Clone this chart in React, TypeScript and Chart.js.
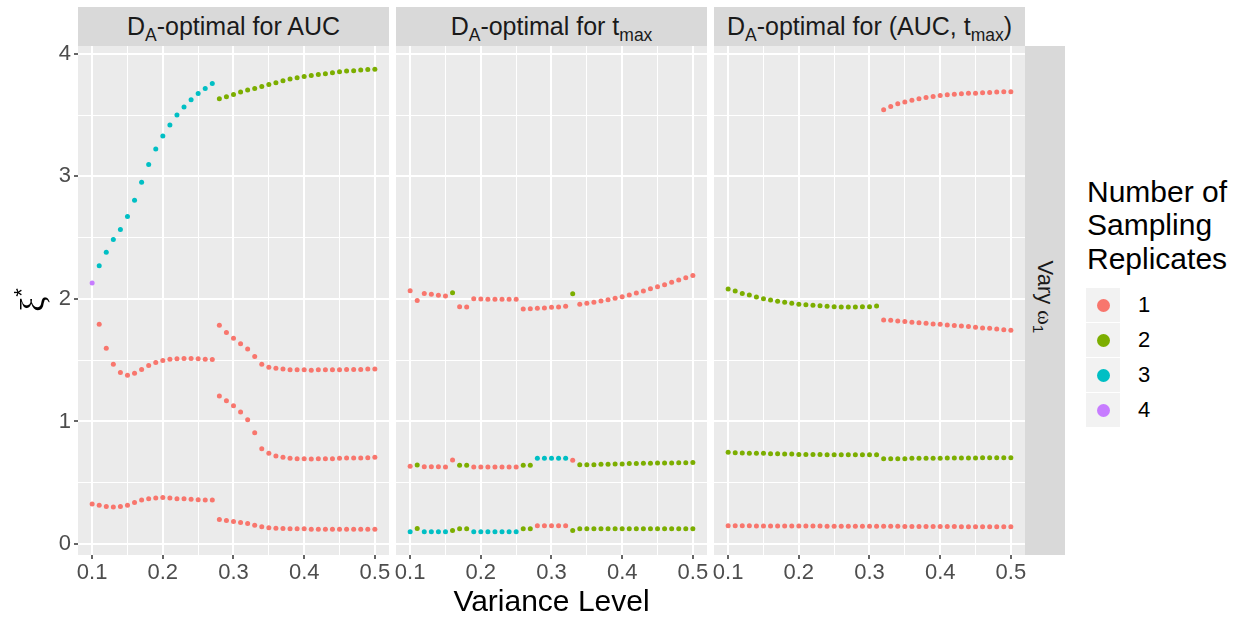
import React, { useEffect, useRef } from 'react';
import { Chart, registerables } from 'chart.js';

Chart.register(...registerables);

// ---------- data ----------
const varianceLevels = [
  0.10, 0.11, 0.12, 0.13, 0.14, 0.15, 0.16, 0.17, 0.18, 0.19, 0.20,
  0.21, 0.22, 0.23, 0.24, 0.25, 0.26, 0.27, 0.28, 0.29, 0.30,
  0.31, 0.32, 0.33, 0.34, 0.35, 0.36, 0.37, 0.38, 0.39, 0.40,
  0.41, 0.42, 0.43, 0.44, 0.45, 0.46, 0.47, 0.48, 0.49, 0.50,
];

const xTickValues = [0.1, 0.2, 0.3, 0.4, 0.5];
const xTickLabels = ['0.1', '0.2', '0.3', '0.4', '0.5'];
const xMinorTicks = [0.15, 0.25, 0.35, 0.45];
const yTickValues = [0, 1, 2, 3, 4];
const yTickLabels = ['0', '1', '2', '3', '4'];
const yMinorTicks = [0.5, 1.5, 2.5, 3.5];

const replicateLabels = ['1', '2', '3', '4'];
const replicateColors = ['#F8766D', '#7CAE00', '#00BFC4', '#C77CFF'];

// Panel 1: D_A-optimal for AUC (support points, replicate counts)
const aucRow1 = [2.13, 2.27, 2.38, 2.485, 2.566, 2.672, 2.805, 2.952, 3.096, 3.223, 3.329, 3.419, 3.500, 3.566, 3.625, 3.677, 3.718, 3.758, 3.633, 3.650, 3.669, 3.688, 3.704, 3.718, 3.734, 3.750, 3.764, 3.780, 3.794, 3.804, 3.815, 3.823, 3.832, 3.837, 3.845, 3.853, 3.859, 3.862, 3.867, 3.872, 3.875];
const aucRep1 = [4, 3, 3, 3, 3, 3, 3, 3, 3, 3, 3, 3, 3, 3, 3, 3, 3, 3, 2, 2, 2, 2, 2, 2, 2, 2, 2, 2, 2, 2, 2, 2, 2, 2, 2, 2, 2, 2, 2, 2, 2];
const aucRow2 = [null, 1.793, 1.598, 1.467, 1.399, 1.378, 1.394, 1.424, 1.456, 1.481, 1.497, 1.508, 1.511, 1.513, 1.513, 1.511, 1.508, 1.505, 1.785, 1.725, 1.679, 1.635, 1.592, 1.530, 1.467, 1.443, 1.435, 1.427, 1.421, 1.421, 1.421, 1.418, 1.421, 1.421, 1.421, 1.421, 1.424, 1.424, 1.424, 1.427, 1.429];
const aucRep2 = [0, 1, 1, 1, 1, 1, 1, 1, 1, 1, 1, 1, 1, 1, 1, 1, 1, 1, 1, 1, 1, 1, 1, 1, 1, 1, 1, 1, 1, 1, 1, 1, 1, 1, 1, 1, 1, 1, 1, 1, 1];
const aucRow3 = [null, null, null, null, null, null, null, null, null, null, null, null, null, null, null, null, null, null, 1.207, 1.169, 1.128, 1.077, 1.014, 0.908, 0.778, 0.740, 0.718, 0.707, 0.699, 0.696, 0.696, 0.694, 0.696, 0.696, 0.696, 0.699, 0.702, 0.702, 0.702, 0.704, 0.707];
const aucRep3 = [0, 0, 0, 0, 0, 0, 0, 0, 0, 0, 0, 0, 0, 0, 0, 0, 0, 0, 1, 1, 1, 1, 1, 1, 1, 1, 1, 1, 1, 1, 1, 1, 1, 1, 1, 1, 1, 1, 1, 1, 1];
const aucRow4 = [0.327, 0.316, 0.305, 0.302, 0.305, 0.316, 0.338, 0.359, 0.370, 0.376, 0.379, 0.376, 0.370, 0.370, 0.365, 0.362, 0.359, 0.359, 0.200, 0.191, 0.183, 0.175, 0.167, 0.153, 0.140, 0.132, 0.129, 0.126, 0.124, 0.124, 0.124, 0.121, 0.121, 0.121, 0.121, 0.121, 0.121, 0.121, 0.121, 0.121, 0.121];
const aucRep4 = [1, 1, 1, 1, 1, 1, 1, 1, 1, 1, 1, 1, 1, 1, 1, 1, 1, 1, 1, 1, 1, 1, 1, 1, 1, 1, 1, 1, 1, 1, 1, 1, 1, 1, 1, 1, 1, 1, 1, 1, 1];

// Panel 2: D_A-optimal for t_max
const tmaxRow1 = [2.067, 1.986, 2.045, 2.037, 2.029, 2.024, 2.051, 1.937, 1.934, 2.002, 1.999, 1.997, 1.997, 1.997, 1.997, 1.997, 1.918, 1.920, 1.923, 1.926, 1.931, 1.934, 1.940, 2.043, 1.956, 1.964, 1.972, 1.983, 1.994, 2.005, 2.018, 2.032, 2.048, 2.064, 2.083, 2.100, 2.116, 2.135, 2.154, 2.173, 2.192];
const tmaxRep1 = [1, 1, 1, 1, 1, 1, 2, 1, 1, 1, 1, 1, 1, 1, 1, 1, 1, 1, 1, 1, 1, 1, 1, 2, 1, 1, 1, 1, 1, 1, 1, 1, 1, 1, 1, 1, 1, 1, 1, 1, 1];
const tmaxRow2 = [0.634, 0.645, 0.631, 0.631, 0.631, 0.628, 0.685, 0.642, 0.642, 0.628, 0.628, 0.628, 0.628, 0.628, 0.628, 0.628, 0.642, 0.642, 0.699, 0.699, 0.699, 0.699, 0.699, 0.683, 0.647, 0.647, 0.647, 0.650, 0.650, 0.653, 0.653, 0.656, 0.656, 0.658, 0.658, 0.661, 0.661, 0.661, 0.664, 0.664, 0.666];
const tmaxRep2 = [1, 2, 1, 1, 1, 1, 1, 2, 2, 1, 1, 1, 1, 1, 1, 1, 2, 2, 3, 3, 3, 3, 3, 1, 2, 2, 2, 2, 2, 2, 2, 2, 2, 2, 2, 2, 2, 2, 2, 2, 2];
const tmaxRow3 = [0.099, 0.126, 0.099, 0.099, 0.099, 0.099, 0.110, 0.124, 0.124, 0.099, 0.099, 0.099, 0.099, 0.099, 0.099, 0.099, 0.124, 0.124, 0.148, 0.148, 0.148, 0.148, 0.148, 0.110, 0.124, 0.124, 0.124, 0.124, 0.124, 0.124, 0.124, 0.124, 0.124, 0.124, 0.124, 0.124, 0.124, 0.124, 0.124, 0.124, 0.124];
const tmaxRep3 = [3, 2, 3, 3, 3, 3, 2, 2, 2, 3, 3, 3, 3, 3, 3, 3, 2, 2, 1, 1, 1, 1, 1, 2, 2, 2, 2, 2, 2, 2, 2, 2, 2, 2, 2, 2, 2, 2, 2, 2, 2];

// Panel 3: D_A-optimal for (AUC, t_max)
const bothRow1 = [null, null, null, null, null, null, null, null, null, null, null, null, null, null, null, null, null, null, null, null, null, null, 3.544, 3.571, 3.593, 3.606, 3.622, 3.633, 3.644, 3.652, 3.660, 3.666, 3.671, 3.674, 3.679, 3.679, 3.682, 3.685, 3.688, 3.690, 3.690];
const bothRep1 = [0, 0, 0, 0, 0, 0, 0, 0, 0, 0, 0, 0, 0, 0, 0, 0, 0, 0, 0, 0, 0, 0, 1, 1, 1, 1, 1, 1, 1, 1, 1, 1, 1, 1, 1, 1, 1, 1, 1, 1, 1];
const bothRow2 = [2.081, 2.064, 2.045, 2.032, 2.015, 2.002, 1.991, 1.980, 1.972, 1.964, 1.956, 1.953, 1.948, 1.945, 1.940, 1.937, 1.934, 1.934, 1.934, 1.937, 1.937, 1.942, 1.828, 1.825, 1.820, 1.815, 1.809, 1.806, 1.801, 1.796, 1.793, 1.787, 1.782, 1.779, 1.774, 1.768, 1.763, 1.760, 1.755, 1.749, 1.744];
const bothRep2 = [2, 2, 2, 2, 2, 2, 2, 2, 2, 2, 2, 2, 2, 2, 2, 2, 2, 2, 2, 2, 2, 2, 1, 1, 1, 1, 1, 1, 1, 1, 1, 1, 1, 1, 1, 1, 1, 1, 1, 1, 1];
const bothRow3 = [0.748, 0.745, 0.742, 0.740, 0.740, 0.740, 0.737, 0.737, 0.734, 0.734, 0.731, 0.731, 0.731, 0.731, 0.728, 0.728, 0.728, 0.728, 0.728, 0.728, 0.728, 0.728, 0.696, 0.696, 0.696, 0.696, 0.699, 0.699, 0.699, 0.699, 0.699, 0.702, 0.702, 0.702, 0.702, 0.702, 0.704, 0.704, 0.704, 0.704, 0.704];
const bothRep3 = [2, 2, 2, 2, 2, 2, 2, 2, 2, 2, 2, 2, 2, 2, 2, 2, 2, 2, 2, 2, 2, 2, 2, 2, 2, 2, 2, 2, 2, 2, 2, 2, 2, 2, 2, 2, 2, 2, 2, 2, 2];
const bothRow4 = [0.148, 0.148, 0.148, 0.148, 0.146, 0.146, 0.146, 0.146, 0.146, 0.146, 0.146, 0.146, 0.146, 0.146, 0.144, 0.144, 0.144, 0.144, 0.144, 0.144, 0.144, 0.144, 0.144, 0.144, 0.144, 0.143, 0.143, 0.143, 0.143, 0.143, 0.143, 0.143, 0.143, 0.141, 0.141, 0.141, 0.141, 0.141, 0.141, 0.141, 0.141];
const bothRep4 = [1, 1, 1, 1, 1, 1, 1, 1, 1, 1, 1, 1, 1, 1, 1, 1, 1, 1, 1, 1, 1, 1, 1, 1, 1, 1, 1, 1, 1, 1, 1, 1, 1, 1, 1, 1, 1, 1, 1, 1, 1];

const panelRows = [
  [aucRow1, aucRow2, aucRow3, aucRow4],
  [tmaxRow1, tmaxRow2, tmaxRow3],
  [bothRow1, bothRow2, bothRow3, bothRow4],
];
const panelReps = [
  [aucRep1, aucRep2, aucRep3, aucRep4],
  [tmaxRep1, tmaxRep2, tmaxRep3],
  [bothRep1, bothRep2, bothRep3, bothRep4],
];

// ---------- layout ----------
const FONT = '"Liberation Sans", Arial, Helvetica, sans-serif';
const SERIF = '"Liberation Serif", "DejaVu Serif", serif';
const X_MIN = 0.08;
const X_MAX = 0.52;
const Y_MIN = -0.0898;
const Y_MAX = 4.0638;
const PANEL_TOP = 46;
const PANEL_H = 509;
const PANEL_W = 311;
const PANEL_LEFTS = [78, 396, 714];
const STRIP_TOP = 7;
const PAD_T = 24;
const PAD_SIDE = 12;
const Y_AXIS_W = 40;
const X_AXIS_H = 50;

const near = (v: number, arr: number[]) => arr.findIndex((t) => Math.abs(t - v) < 1e-6);

const panelBg = {
  id: 'panelBg',
  beforeDraw(chart: any) {
    const { ctx, chartArea } = chart;
    ctx.save();
    ctx.fillStyle = '#EBEBEB';
    ctx.fillRect(chartArea.left, chartArea.top, chartArea.right - chartArea.left, chartArea.bottom - chartArea.top);
    ctx.restore();
  },
};

function buildDatasets(rows: (number | null)[][], reps: number[][]) {
  return replicateLabels.map((lab, k) => {
    const pts: { x: number; y: number }[] = [];
    rows.forEach((row, r) => {
      row.forEach((v, i) => {
        if (v !== null && reps[r][i] === k + 1) pts.push({ x: varianceLevels[i], y: v });
      });
    });
    return {
      label: lab,
      data: pts,
      backgroundColor: replicateColors[k],
      borderColor: replicateColors[k],
      borderWidth: 0,
      pointRadius: 2.5,
      pointHoverRadius: 2.5,
      pointBorderWidth: 0,
    };
  });
}

function PanelChart({ index }: { index: number }) {
  const ref = useRef<HTMLCanvasElement>(null);
  const showY = index === 0;
  const padL = showY ? 0 : PAD_SIDE;
  const yw = showY ? Y_AXIS_W : 0;
  const left = PANEL_LEFTS[index] - yw - padL;
  const top = PANEL_TOP - PAD_T;
  const width = padL + yw + PANEL_W + PAD_SIDE;
  const height = PAD_T + PANEL_H + X_AXIS_H;

  useEffect(() => {
    const chart = new Chart(ref.current as HTMLCanvasElement, {
      type: 'scatter',
      data: { datasets: buildDatasets(panelRows[index], panelReps[index]) as any },
      options: {
        responsive: false,
        animation: false,
        devicePixelRatio: 1,
        events: [],
        layout: { padding: { top: PAD_T, bottom: 0, left: padL, right: PAD_SIDE } },
        plugins: { legend: { display: false }, tooltip: { enabled: false }, title: { display: false } },
        scales: {
          x: {
            type: 'linear',
            position: 'bottom',
            min: X_MIN,
            max: X_MAX,
            afterBuildTicks: (s: any) => {
              s.ticks = [...xTickValues, ...xMinorTicks].sort((a, b) => a - b).map((v) => ({ value: v }));
            },
            afterFit: (s: any) => {
              s.height = X_AXIS_H;
            },
            ticks: {
              autoSkip: false,
              maxRotation: 0,
              minRotation: 0,
              padding: 1,
              color: '#4D4D4D',
              font: { family: FONT, size: 22 },
              callback: (v: any) => {
                const i = near(Number(v), xTickValues);
                return i >= 0 ? xTickLabels[i] : '';
              },
            },
            grid: {
              color: '#FFFFFF',
              lineWidth: (c: any) => (c.tick && near(c.tick.value, xTickValues) >= 0 ? 2 : 1),
              drawTicks: true,
              tickLength: 4,
              tickWidth: 1.5,
              tickColor: (c: any) => (c.tick && near(c.tick.value, xTickValues) >= 0 ? '#333333' : 'rgba(0,0,0,0)'),
            },
            border: { display: false },
          },
          y: {
            type: 'linear',
            position: 'left',
            min: Y_MIN,
            max: Y_MAX,
            afterBuildTicks: (s: any) => {
              s.ticks = [...yTickValues, ...yMinorTicks].sort((a, b) => a - b).map((v) => ({ value: v }));
            },
            afterFit: (s: any) => {
              s.width = yw;
            },
            ticks: {
              display: showY,
              autoSkip: false,
              padding: 3,
              color: '#4D4D4D',
              font: { family: FONT, size: 22 },
              callback: (v: any) => {
                const i = near(Number(v), yTickValues);
                return i >= 0 ? yTickLabels[i] : '';
              },
            },
            grid: {
              color: '#FFFFFF',
              lineWidth: (c: any) => (c.tick && near(c.tick.value, yTickValues) >= 0 ? 2 : 1),
              drawTicks: showY,
              tickLength: 4,
              tickWidth: 1.5,
              tickColor: (c: any) => (c.tick && near(c.tick.value, yTickValues) >= 0 ? '#333333' : 'rgba(0,0,0,0)'),
            },
            border: { display: false },
          },
        },
      } as any,
      plugins: [panelBg],
    });
    return () => chart.destroy();
  }, []);

  return (
    <canvas
      ref={ref}
      width={width}
      height={height}
      style={{ position: 'absolute', left, top, width, height, display: 'block' }}
    />
  );
}

const Sub = ({ children }: { children: React.ReactNode }) => (
  <span style={{ fontSize: '0.7em', position: 'relative', top: '0.35em' }}>{children}</span>
);

const stripTitles = [
  <>D<Sub>A</Sub>-optimal for AUC</>,
  <>D<Sub>A</Sub>-optimal for t<Sub>max</Sub></>,
  <>D<Sub>A</Sub>-optimal for (AUC, t<Sub>max</Sub>)</>,
];

export default function App() {
  return (
    <div
      style={{
        position: 'absolute',
        left: 0,
        top: 0,
        width: 1247,
        height: 619,
        background: '#FFFFFF',
        fontFamily: FONT,
        overflow: 'hidden',
      }}
    >
      {PANEL_LEFTS.map((l, i) => (
        <div
          key={'strip' + i}
          style={{
            position: 'absolute',
            left: l,
            top: STRIP_TOP,
            width: PANEL_W,
            height: PANEL_TOP - STRIP_TOP,
            background: '#D9D9D9',
            color: '#1A1A1A',
            fontSize: 25,
            display: 'flex',
            alignItems: 'center',
            justifyContent: 'center',
            whiteSpace: 'nowrap',
          }}
        >
          <span>{stripTitles[i]}</span>
        </div>
      ))}

      {/* right facet strip */}
      <div
        style={{
          position: 'absolute',
          left: PANEL_LEFTS[2] + PANEL_W,
          top: PANEL_TOP,
          width: 40,
          height: PANEL_H,
          background: '#D9D9D9',
        }}
      />
      <div
        style={{
          position: 'absolute',
          left: 1045 - 60,
          top: 297 - 15,
          width: 120,
          height: 30,
          lineHeight: '30px',
          textAlign: 'center',
          transform: 'rotate(90deg)',
          color: '#1A1A1A',
          fontSize: 22,
          whiteSpace: 'nowrap',
        }}
      >
        Vary <span style={{ fontFamily: SERIF }}>ω</span>
        <Sub>1</Sub>
      </div>

      {[0, 1, 2].map((i) => (
        <PanelChart key={'panel' + i} index={i} />
      ))}

      {/* x axis title */}
      <div
        style={{
          position: 'absolute',
          left: PANEL_LEFTS[0],
          top: 584,
          width: PANEL_LEFTS[2] + PANEL_W - PANEL_LEFTS[0],
          textAlign: 'center',
          fontSize: 30,
          lineHeight: '34px',
          color: '#000000',
          whiteSpace: 'nowrap',
        }}
      >
        Variance Level
      </div>

      {/* y axis title */}
      <div
        style={{
          position: 'absolute',
          left: 33 - 40,
          top: 300 - 20,
          width: 80,
          height: 40,
          lineHeight: '40px',
          textAlign: 'center',
          transform: 'rotate(-90deg)',
          color: '#000000',
          whiteSpace: 'nowrap',
        }}
      >
        <span style={{ fontFamily: SERIF, fontSize: 34 }}>ξ</span>
        <span style={{ fontSize: 22, position: 'relative', top: '-0.7em' }}>*</span>
      </div>

      {/* legend */}
      <div
        style={{
          position: 'absolute',
          left: 1087,
          top: 174.5,
          fontSize: 30,
          lineHeight: '33.5px',
          color: '#000000',
          whiteSpace: 'nowrap',
        }}
      >
        Number of
        <br />
        Sampling
        <br />
        Replicates
      </div>
      {replicateLabels.map((lab, k) => (
        <React.Fragment key={'leg' + k}>
          <div
            style={{
              position: 'absolute',
              left: 1086,
              top: 288 + 35 * k,
              width: 34,
              height: 34,
              background: '#F2F2F2',
            }}
          >
            <div
              style={{
                position: 'absolute',
                left: 17 - 6.5,
                top: 17 - 6.5,
                width: 13,
                height: 13,
                borderRadius: '50%',
                background: replicateColors[k],
              }}
            />
          </div>
          <div
            style={{
              position: 'absolute',
              left: 1138,
              top: 305 + 35 * k - 13,
              height: 26,
              lineHeight: '26px',
              fontSize: 22,
              color: '#000000',
            }}
          >
            {lab}
          </div>
        </React.Fragment>
      ))}
    </div>
  );
}
